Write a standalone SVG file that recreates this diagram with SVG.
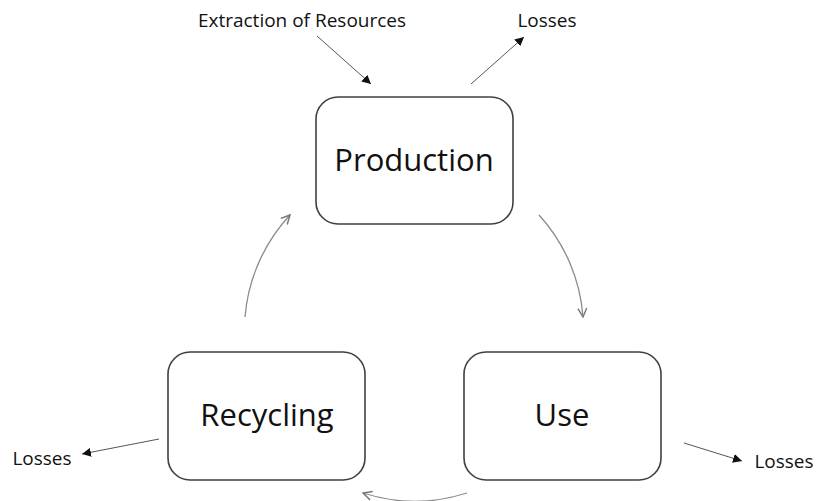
<svg xmlns="http://www.w3.org/2000/svg" width="817" height="501" viewBox="0 0 817 501">
<defs>
<style>
.box{fill:#fff;stroke:#404040;stroke-width:1.6}
.big{font-family:"Open Sans","Liberation Sans",sans-serif;font-size:31px;fill:#111;text-anchor:middle}
.small{font-family:"Open Sans","Liberation Sans",sans-serif;font-size:19px;fill:#111;text-anchor:middle}
.flow{fill:none;stroke:#555;stroke-width:1}
.cyc{fill:none;stroke:#8a8a8a;stroke-width:1.3}
</style>
<marker id="tri" viewBox="0 0 10 10" refX="10" refY="5" markerWidth="9" markerHeight="9" markerUnits="userSpaceOnUse" orient="auto">
<path d="M0,0 L10,5 L0,10 z" fill="#111"/>
</marker>
<marker id="chev" viewBox="0 0 10 10" refX="9" refY="5" markerWidth="11" markerHeight="11" markerUnits="userSpaceOnUse" orient="auto">
<path d="M1,1 L9,5 L1,9" fill="none" stroke="#777" stroke-width="1.3"/>
</marker>
</defs>
<rect width="817" height="501" fill="#fff"/>
<g id="connectors">
<line class="flow" x1="317" y1="36" x2="371" y2="84" marker-end="url(#tri)"/>
<line class="flow" x1="471" y1="84" x2="524" y2="37" marker-end="url(#tri)"/>
<line class="flow" x1="159" y1="439" x2="82" y2="454" marker-end="url(#tri)"/>
<line class="flow" x1="684" y1="443" x2="742" y2="461" marker-end="url(#tri)"/>
<path class="cyc" d="M245,317 A170,170 0 0 1 290,215" marker-end="url(#chev)"/>
<path class="cyc" d="M539,215 A170,170 0 0 1 583,317" marker-end="url(#chev)"/>
<path class="cyc" d="M467,493 A170,170 0 0 1 363,493" marker-end="url(#chev)"/>
</g>
<g id="production">
<rect class="box" x="316" y="97" width="197" height="127" rx="22"/>
<text class="big" x="414" y="171">Production</text>
</g>
<g id="recycling">
<rect class="box" x="168" y="352" width="197" height="128" rx="22"/>
<text class="big" x="267" y="426">Recycling</text>
</g>
<g id="use">
<rect class="box" x="464" y="352" width="197" height="128" rx="22"/>
<text class="big" x="562" y="426">Use</text>
</g>
<g id="labels">
<text class="small" x="302" y="27">Extraction of Resources</text>
<text class="small" x="547" y="27">Losses</text>
<text class="small" x="42" y="465">Losses</text>
<text class="small" x="784" y="468">Losses</text>
</g>
</svg>
